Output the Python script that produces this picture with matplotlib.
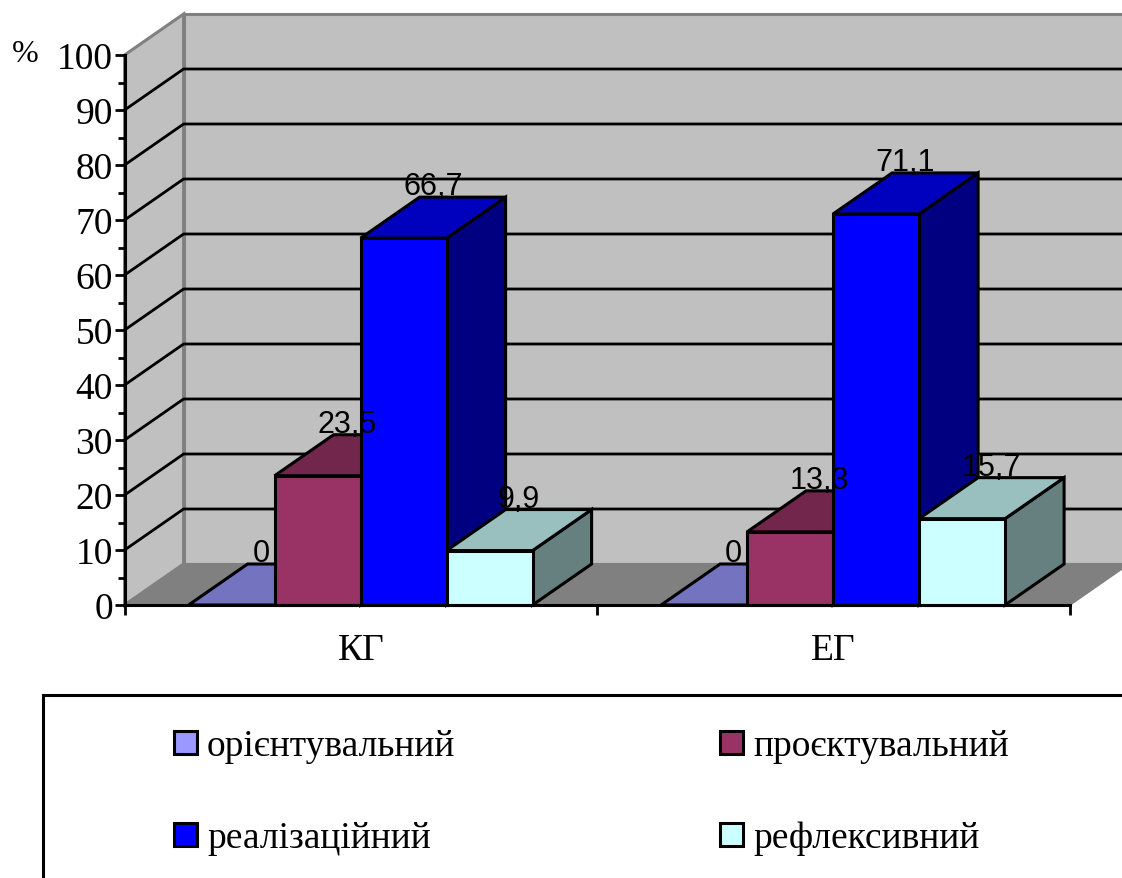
import matplotlib
matplotlib.use('Agg')
import matplotlib.pyplot as plt
from matplotlib.patches import Polygon, Rectangle

categories = ['КГ', 'ЕГ']
series_names = ['орієнтувальний', 'проєктувальний', 'реалізаційний', 'рефлексивний']
kg_values = [0, 23.5, 66.7, 9.9]
eg_values = [0, 13.3, 71.1, 15.7]
value_labels_kg = ['0', '23,5', '66,7', '9,9']
value_labels_eg = ['0', '13,3', '71,1', '15,7']
y_ticks = [0, 10, 20, 30, 40, 50, 60, 70, 80, 90, 100]
y_minor = [5, 15, 25, 35, 45, 55, 65, 75, 85, 95]

front_colors = ['#9999FF', '#993366', '#0000FF', '#CCFFFF']
top_colors = ['#7373BF', '#73264C', '#0000BF', '#99BFBF']
side_colors = ['#4D4D80', '#4D1A33', '#000080', '#668080']

W, H = 1122, 879
# depth of the 3d box in data units, one unit of d = whole floor depth
DX = 59 / 472.5
DY = 41 / 5.5
BAR_W = 86 / 472.5
GAP = 64 / 472.5

plt.rcParams['font.family'] = ['Liberation Serif', 'DejaVu Serif']

fig = plt.figure(figsize=(W / 100, H / 100), dpi=100, facecolor='white')
ax = fig.add_axes([124.6 / W, 1 - 606 / H, 945 / W, 550 / H])
ax.set_xlim(0, 2)
ax.set_ylim(0, 100)
ax.patch.set_visible(False)


def pr(x, y, d=0):
    return (x + DX * d, y + DY * d)


def face(points, color, edge='black', lw=2.2):
    ax.add_patch(Polygon(points, closed=True, facecolor=color, edgecolor=edge,
                         linewidth=lw, clip_on=False, zorder=1, joinstyle='miter'))


# ---------------- walls and floor ----------------
face([pr(0, 0), pr(0, 100), pr(0, 100, 1), pr(0, 0, 1)], '#C0C0C0', '#808080', 2.2)
face([pr(0, 0, 1), pr(0, 100, 1), pr(2, 100, 1), pr(2, 0, 1)], '#C0C0C0', '#808080', 2.2)
face([pr(0, 0), pr(0, 0, 1), pr(2, 0, 1), pr(2, 0)], '#808080', '#808080', 1.5)

for v in y_ticks[1:-1]:
    xs = [pr(0, v)[0], pr(0, v, 1)[0], pr(2, v, 1)[0]]
    ys = [pr(0, v)[1], pr(0, v, 1)[1], pr(2, v, 1)[1]]
    ax.plot(xs, ys, color='black', lw=2.0, clip_on=False, zorder=1)

# ---------------- bars ----------------
for c, values in enumerate([kg_values, eg_values]):
    for i, v in enumerate(values):
        x0 = c + GAP + i * BAR_W
        x1 = x0 + BAR_W
        if v > 0:
            face([pr(x1, 0), pr(x1, v), pr(x1, v, 1), pr(x1, 0, 1)], side_colors[i])
            face([pr(x0, 0), pr(x0, v), pr(x1, v), pr(x1, 0)], front_colors[i])
        face([pr(x0, v), pr(x1, v), pr(x1, v, 1), pr(x0, v, 1)], top_colors[i])

# labels go over all the bars
for c, (values, labels) in enumerate([(kg_values, value_labels_kg), (eg_values, value_labels_eg)]):
    for i, v in enumerate(values):
        xm = c + GAP + (i + 0.5) * BAR_W
        tx, ty = pr(xm, v, 0.5)
        ax.text(tx, v + DY + 0.5, labels[i], ha='center', va='baseline', fontsize=22,
                family=['Liberation Sans'], color='black', zorder=3, clip_on=False)

# ---------------- axes ----------------
for s in ['top', 'right']:
    ax.spines[s].set_visible(False)
for s in ['left', 'bottom']:
    ax.spines[s].set_linewidth(2.2)
ax.set_yticks(y_ticks)
ax.set_yticks(y_minor, minor=True)
ax.set_xticks([0, 1, 2])
ax.set_xticklabels([])
ax.set_xticks([0.5, 1.5], minor=True)
ax.set_xticklabels(categories, minor=True, fontsize=27)
ax.tick_params(axis='y', which='major', length=7, width=2.0, labelsize=27, pad=1.5)
ax.tick_params(axis='y', which='minor', length=5, width=2.0)
ax.tick_params(axis='x', which='major', length=7, width=2.0)
ax.tick_params(axis='x', which='minor', length=0, pad=20)

# ---------------- legend and % sign, in pixel coords ----------------
over = fig.add_axes([0, 0, 1, 1])
over.set_xlim(0, W)
over.set_ylim(H, 0)
over.axis('off')
over.text(12, 62, '%', fontsize=23, va='baseline', ha='left')
over.add_patch(Rectangle((43, 695.5), W + 20, H, facecolor='white', edgecolor='black', linewidth=2.2))

legend_spots = [(174, 743.5), (720, 743.5), (174, 835.5), (720, 835.5)]
for name, color, (lx, ly) in zip(series_names, front_colors, legend_spots):
    over.add_patch(Rectangle((lx, ly - 11.5), 23, 23, facecolor=color, edgecolor='black', linewidth=2.2))
    over.text(lx + 33, ly + 3.5, name, fontsize=27, va='center', ha='left')

fig.savefig('out.png', dpi=100, facecolor='white')
